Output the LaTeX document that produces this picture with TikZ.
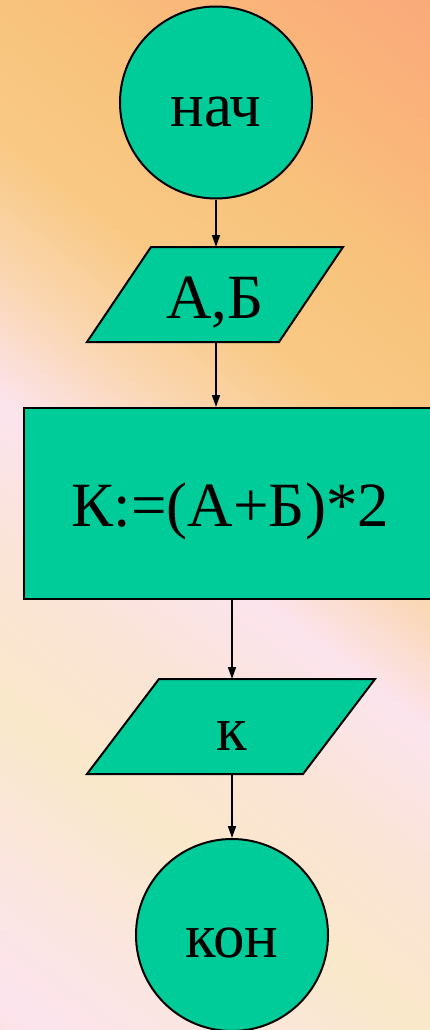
\documentclass[tikz,border=0pt]{standalone}
\usepackage{fontspec}
\setmainfont{Liberation Serif}
\usetikzlibrary{arrows.meta}
\definecolor{tealfill}{RGB}{0,204,153}
\definecolor{bgA}{RGB}{250,166,122}
\definecolor{bgB}{RGB}{250,182,122}
\definecolor{bgC}{RGB}{248,196,125}
\definecolor{bgD}{RGB}{249,201,132}
\definecolor{bgE}{RGB}{250,214,176}
\definecolor{bgF}{RGB}{252,228,238}
\definecolor{bgG}{RGB}{250,228,214}
\definecolor{bgH}{RGB}{250,232,202}
\definecolor{bgI}{RGB}{251,229,226}
\definecolor{bgJ}{RGB}{250,218,208}
\newcommand{\bgband}[4]{%
  \foreach \k in {0,...,19}{%
    \pgfmathsetmacro{\da}{(#1)+((#2)-(#1))*\k/20}%
    \pgfmathsetmacro{\db}{(#1)+((#2)-(#1))*(\k+1)/20}%
    \pgfmathtruncatemacro{\pc}{5*\k+3}%
    \fill[#4!\pc!#3, draw=#4!\pc!#3, line width=0.8pt]
      (\da,-1600) -- (\db,-1600) -- (\db,1600) -- (\da,1600) -- cycle;
  }}
\tikzset{
  shapebox/.style={draw=black, line width=2pt, fill=tealfill},
  flowarrow/.style={draw=black, line width=1.6pt, -{Triangle[length=12pt,width=8pt]}},
  bigtext/.style={anchor=base, inner sep=0pt, font=\fontsize{63}{70}\selectfont},
}
\begin{document}
\begin{tikzpicture}[x=1pt,y=-1pt]
\useasboundingbox (0,0) rectangle (430,1030);
\begin{scope}
  \clip (0,0) rectangle (430,1030);
  \begin{scope}[x={(0.609pt,0.793pt)}, y={(0.793pt,-0.609pt)}]
    \bgband{300}{130}{bgA}{bgB}
    \bgband{130}{0}{bgB}{bgC}
    \bgband{0}{-110}{bgC}{bgD}
    \bgband{-110}{-215}{bgD}{bgE}
    \bgband{-215}{-320}{bgE}{bgF}
    \bgband{-320}{-440}{bgF}{bgG}
    \bgband{-440}{-560}{bgG}{bgH}
    \bgband{-560}{-700}{bgH}{bgI}
    \bgband{-700}{-793}{bgI}{bgF}
    \bgband{-793}{-880}{bgF}{bgJ}
  \end{scope}
  % shapes
  \node[shapebox, circle, minimum size=192pt, inner sep=0pt] (start) at (216,102.5) {};
  \draw[shapebox] (151,247) -- (343,247) -- (279,342) -- (87,342) -- cycle;
  \coordinate (in1n) at (216,247);
  \coordinate (in1s) at (216,342);
  \node[shapebox, rectangle, minimum width=422pt, minimum height=191pt, inner sep=0pt, anchor=north west] (calc) at (23,407) {};
  \draw[shapebox] (159,679) -- (375,679) -- (303,774) -- (87,774) -- cycle;
  \coordinate (out1n) at (232,679);
  \coordinate (out1s) at (232,774);
  \node[shapebox, circle, minimum size=192pt, inner sep=0pt] (stop) at (232,935) {};
  % texts
  \node[bigtext] (startt) at (216,127) {нач};
  \node[bigtext] (in1t) at (215,318) {А,Б};
  \node[bigtext] (calct) at (230.5,526) {К:=(А+Б)*2};
  \node[bigtext] (out1t) at (232,750) {к};
  \node[bigtext] (stopt) at (232,957) {кон};
  % connectors
  \draw[flowarrow] (start.south) -- (in1n);
  \draw[flowarrow] (in1s) -- (in1s |- calc.north);
  \draw[flowarrow] (calc.south -| out1n) -- (out1n);
  \draw[flowarrow] (out1s) -- (stop.north);
\end{scope}
\end{tikzpicture}
\end{document}
